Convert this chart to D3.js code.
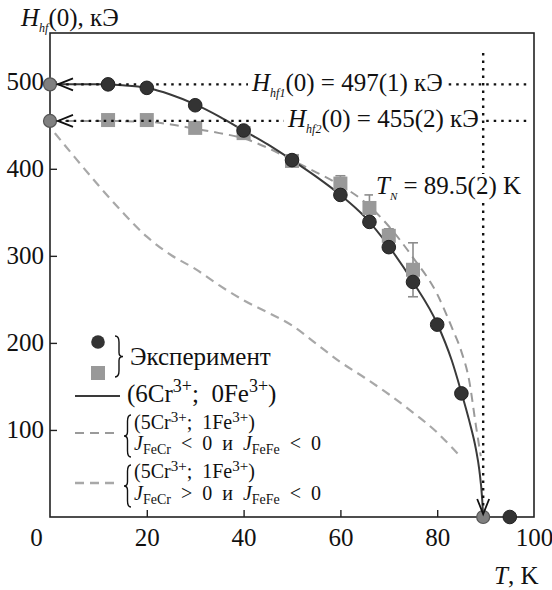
<!DOCTYPE html>
<html>
<head>
<meta charset="utf-8">
<script src="https://cdn.jsdelivr.net/npm/d3@7"></script>
<style>
  body { margin: 0; background: #fff; }
  svg text { font-family: "Liberation Serif", "Times New Roman", "DejaVu Serif", serif; }
</style>
</head>
<body>
<svg id="chart" width="552" height="590"></svg>
<script>
// ---------- data ----------
const xTicks = [0, 20, 40, 60, 80, 100];
const yTicks = [100, 200, 300, 400, 500];

// experiment: circles (Hhf1)
const circT = [12, 20, 30, 40, 50, 60, 66, 70, 75, 80, 85, 95];
const circH = [497, 493, 473, 444, 410, 370, 339, 310, 270, 221, 142, 0];

// experiment: squares (Hhf2) with error bars
const sqT = [12, 20, 30, 40, 50, 60, 66, 70, 75];
const sqH = [456, 456, 447, 441, 409, 383, 355, 323, 284];
const sqErr = [0, 0, 0, 0, 0, 9, 15, 8, 31];

// reference points (grey circles)
const refT = [0, 0, 89.5];
const refH = [497, 455, 0];

// model (6Cr3+; 0Fe3+) – solid
const solidT = [0, 5, 10, 15, 20, 25, 30, 35, 40, 45, 50, 55, 60, 65, 70, 75, 80, 83, 85, 86.6, 88, 88.7, 89.3, 89.5];
const solidH = [497, 497, 497, 496, 493, 485, 474, 460, 444, 428, 410, 391, 370, 345, 311, 270, 222, 180, 143, 111, 78, 54, 20, 0];

// model (5Cr3+; 1Fe3+) JFeCr<0, JFeFe<0 – upper dashed
const dash1T = [0, 10, 20, 25, 30, 35, 40, 45, 50, 55, 60, 65, 70, 75, 80, 83, 85, 86.6, 88, 89];
const dash1H = [455, 455, 454, 451, 446, 441, 435, 424, 410, 396, 381, 362, 334, 298, 256, 218, 190, 157, 105, 70];

// model (5Cr3+; 1Fe3+) JFeCr>0, JFeFe<0 – lower dashed
const dash2T = [1, 5, 10, 15, 20, 25, 30, 35, 40, 45, 50, 55, 60, 65, 70, 75, 80, 83, 85];
const dash2H = [441, 414, 381, 350, 322, 301, 285, 266, 249, 235, 220, 199, 178, 160, 141, 120, 97, 80, 68];

// reference values
const Hhf1 = 497, Hhf2 = 455, TN = 89.5;

// ---------- setup ----------
const svg = d3.select("#chart");
const x = d3.scaleLinear().domain([0, 100]).range([50, 534]);
const y = d3.scaleLinear().domain([0, 556]).range([517, 33]);

const FF = "Liberation Serif, Times New Roman, DejaVu Serif, serif";
const FS = 25;
const NB = "\u00a0";

// rich text helper (start-anchored); up: baseline shift upward in px (negative = subscript)
function rich(g, xx, yy, parts, size) {
  const t = g.append("text").attr("x", xx).attr("y", yy)
    .attr("font-size", size).attr("fill", "#111").attr("font-family", FF);
  parts.forEach(p => {
    const s = t.append("tspan").text(p.t).attr("font-size", p.size || size);
    if (p.up) s.attr("baseline-shift", p.up);
    if (p.i) s.attr("font-style", "italic");
  });
  return t;
}
function withBg(g, textSel, pad) {
  const b = textSel.node().getBBox();
  g.insert("rect", () => textSel.node())
    .attr("x", b.x - pad).attr("y", b.y + 2)
    .attr("width", b.width + 2 * pad).attr("height", b.height - 4)
    .attr("fill", "#fff");
}

// ---------- axes ----------
const gx = svg.append("g").attr("transform", `translate(0,${y(0)})`)
  .call(d3.axisBottom(x).tickValues(xTicks).tickSizeInner(-7).tickSizeOuter(0).tickPadding(11));
const gy = svg.append("g").attr("transform", `translate(${x(0)},0)`)
  .call(d3.axisLeft(y).tickValues(yTicks).tickSizeInner(-7).tickSizeOuter(0).tickPadding(6));
[gx, gy].forEach(g => {
  g.attr("font-family", FF);
  g.select(".domain").remove();
  g.selectAll("line").attr("stroke", "#222").attr("stroke-width", 1.4);
  g.selectAll("text").attr("font-size", FS).attr("fill", "#111").attr("font-family", FF);
});
gx.selectAll(".tick").filter(d => d === 0).select("text").attr("dx", -14);
gx.selectAll(".tick").filter(d => d === 0 || d === 100).select("line").remove();

// frame
svg.append("rect").attr("x", x(0)).attr("y", y(556))
  .attr("width", x(100) - x(0)).attr("height", y(0) - y(556))
  .attr("fill", "none").attr("stroke", "#222").attr("stroke-width", 1.6);

// axis titles
rich(svg, 21, 26, [{t: "H", i: 1}, {t: "hf", i: 1, size: 12, up: -6}, {t: "(0), кЭ"}], FS);
rich(svg, 494, 584, [{t: "T", i: 1}, {t: ", K"}], FS);

// ---------- curves ----------
const line = d3.line().x(d => x(d[0])).y(d => y(d[1])).curve(d3.curveMonotoneX);
const plot = svg.append("g");

plot.append("path").datum(dash2T.map((t, i) => [t, dash2H[i]]))
  .attr("d", line).attr("fill", "none").attr("stroke", "#a8a8a8")
  .attr("stroke-width", 2.2).attr("stroke-dasharray", "9,6");
plot.append("path").datum(dash1T.map((t, i) => [t, dash1H[i]]))
  .attr("d", line).attr("fill", "none").attr("stroke", "#9a9a9a")
  .attr("stroke-width", 2).attr("stroke-dasharray", "9,6");
plot.append("path").datum(solidT.map((t, i) => [t, solidH[i]]))
  .attr("d", line).attr("fill", "none").attr("stroke", "#3a3a3a")
  .attr("stroke-width", 2);

// ---------- squares with error bars ----------
const sq = sqT.map((t, i) => ({t, h: sqH[i], e: sqErr[i]}));
const eb = plot.append("g").attr("stroke", "#8c8c8c").attr("stroke-width", 1.6);
sq.filter(d => d.e > 0).forEach(d => {
  eb.append("line").attr("x1", x(d.t)).attr("x2", x(d.t)).attr("y1", y(d.h - d.e)).attr("y2", y(d.h + d.e));
  [d.h - d.e, d.h + d.e].forEach(v => eb.append("line")
    .attr("x1", x(d.t) - 5).attr("x2", x(d.t) + 5).attr("y1", y(v)).attr("y2", y(v)));
});
plot.selectAll(".sq").data(sq).enter().append("rect")
  .attr("x", d => x(d.t) - 7).attr("y", d => y(d.h) - 7)
  .attr("width", 14).attr("height", 14).attr("fill", "#999");

// ---------- dotted reference lines ----------
const dotted = {stroke: "#111", "stroke-width": 2.4, "stroke-dasharray": "2.5,5"};
function applyAttrs(s, a) { Object.entries(a).forEach(([k, v]) => s.attr(k, v)); return s; }
[Hhf1, Hhf2].forEach(h => {
  applyAttrs(plot.append("line").attr("x1", x(1.8)).attr("x2", x(98.5))
    .attr("y1", y(h)).attr("y2", y(h)), dotted);
});

// labels for H lines
const l1 = rich(svg, 252, 91, [{t: "H", i: 1}, {t: "hf1", i: 1, size: 12, up: -6}, {t: `(0)${NB}=${NB}497(1)${NB}кЭ`}], FS);
withBg(svg, l1, 3);
const l2 = rich(svg, 288, 127, [{t: "H", i: 1}, {t: "hf2", i: 1, size: 12, up: -6}, {t: `(0)${NB}=${NB}455(2)${NB}кЭ`}], FS);
withBg(svg, l2, 3);

// vertical dotted line at TN
applyAttrs(svg.append("line").attr("x1", x(TN)).attr("x2", x(TN))
  .attr("y1", y(533)).attr("y2", y(4)), dotted);

// TN label
const l3 = rich(svg, 376, 194, [{t: "T", i: 1}, {t: "N", i: 1, size: 11, up: -6}, {t: `${NB}=${NB}89.5(2)${NB}K`}], FS);
withBg(svg, l3, 3);

// ---------- circles ----------
svg.selectAll(".c").data(circT.map((t, i) => [t, circH[i]])).enter().append("circle")
  .attr("cx", d => x(d[0])).attr("cy", d => y(d[1])).attr("r", 6.8)
  .attr("fill", "#333").attr("stroke", "#222").attr("stroke-width", 1);
svg.selectAll(".r").data(refT.map((t, i) => [t, refH[i]])).enter().append("circle")
  .attr("cx", d => x(d[0])).attr("cy", d => y(d[1])).attr("r", 6.5)
  .attr("fill", "#808080").attr("stroke", "#555").attr("stroke-width", 1.2);

// arrows
const arrowG = svg.append("g").attr("fill", "none").attr("stroke", "#111").attr("stroke-width", 1.8);
[Hhf1, Hhf2].forEach(h => {
  const tx = x(0) + 8, ty = y(h);
  arrowG.append("path").attr("d", `M${tx + 15},${ty - 6} L${tx},${ty} L${tx + 15},${ty + 6}`);
});
{
  const tx = x(TN), ty = y(0) - 3;
  arrowG.append("path").attr("d", `M${tx - 6},${ty - 15} L${tx},${ty} L${tx + 6},${ty - 15}`);
}

// ---------- legend ----------
const lg = svg.append("g");
lg.append("circle").attr("cx", 98).attr("cy", 342).attr("r", 6.8).attr("fill", "#333");
lg.append("rect").attr("x", 91).attr("y", 366).attr("width", 14).attr("height", 14).attr("fill", "#999");
function brace(g, bx, y1, y2, w, dir) {
  const ym = (y1 + y2) / 2, h = y2 - y1, m = bx + dir * w / 2, tip = bx + dir * w;
  g.append("path").attr("fill", "none").attr("stroke", "#111").attr("stroke-width", 1.4)
    .attr("d", `M${bx},${y1} Q${m},${y1} ${m},${y1 + h * 0.15} L${m},${ym - h * 0.1} Q${m},${ym} ${tip},${ym}` +
      ` Q${m},${ym} ${m},${ym + h * 0.1} L${m},${y2 - h * 0.15} Q${m},${y2} ${bx},${y2}`);
}
brace(lg, 115, 336, 377, 8, 1);
rich(lg, 130, 365, [{t: "Эксперимент"}], FS);

lg.append("line").attr("x1", 75).attr("x2", 120).attr("y1", 396).attr("y2", 396)
  .attr("stroke", "#3a3a3a").attr("stroke-width", 2);
rich(lg, 127, 402, [{t: "(6Cr"}, {t: "3+", size: 18, up: 10}, {t: `;${NB}${NB}0Fe`}, {t: "3+", size: 18, up: 10}, {t: ")"}], 25);

lg.append("line").attr("x1", 75).attr("x2", 118).attr("y1", 433).attr("y2", 433)
  .attr("stroke", "#9a9a9a").attr("stroke-width", 2).attr("stroke-dasharray", "9,6");
brace(lg, 131, 415, 457, 7, -1);
const SF = 20;
const sup = {size: 15, up: 7};
const sub = {size: 14, up: -4};
rich(lg, 134, 429, [{t: "(5Cr"}, {t: "3+", ...sup}, {t: `;${NB}${NB}1Fe`}, {t: "3+", ...sup}, {t: ")"}], SF);
rich(lg, 134, 450, [{t: "J", i: 1}, {t: "FeCr", ...sub}, {t: `${NB}${NB}<${NB}${NB}0${NB}${NB}и${NB}${NB}`}, {t: "J", i: 1}, {t: "FeFe", ...sub}, {t: `${NB}${NB}<${NB}${NB}0`}], SF);

lg.append("line").attr("x1", 75).attr("x2", 118).attr("y1", 483).attr("y2", 483)
  .attr("stroke", "#a8a8a8").attr("stroke-width", 2.4).attr("stroke-dasharray", "9,6");
brace(lg, 131, 465, 507, 7, -1);
rich(lg, 134, 478, [{t: "(5Cr"}, {t: "3+", ...sup}, {t: `;${NB}${NB}1Fe`}, {t: "3+", ...sup}, {t: ")"}], SF);
rich(lg, 134, 500, [{t: "J", i: 1}, {t: "FeCr", ...sub}, {t: `${NB}${NB}>${NB}${NB}0${NB}${NB}и${NB}${NB}`}, {t: "J", i: 1}, {t: "FeFe", ...sub}, {t: `${NB}${NB}<${NB}${NB}0`}], SF);
</script>
</body>
</html>
